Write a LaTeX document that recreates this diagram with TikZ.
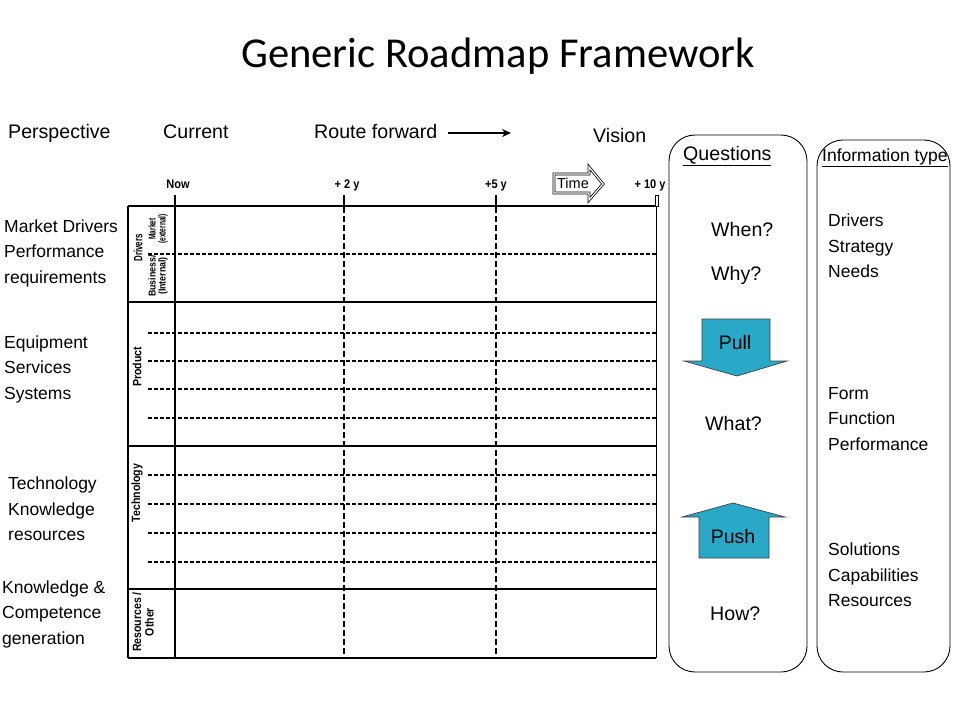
\documentclass[tikz,border=0pt]{standalone}
\usepackage{fontspec}
\setmainfont{Liberation Sans}
\newfontfamily\titlefont{Carlito}
\newfontfamily\narrowfont{Liberation Sans}[FakeStretch=0.88]
\newfontfamily\condfont{Liberation Sans}[FakeStretch=0.66]
\usetikzlibrary{arrows.meta}
\definecolor{arrowblue}{RGB}{41,168,199}

\begin{document}
\begin{tikzpicture}[x=1pt, y=-1pt,
    txt/.style={font=\fontsize{17.5}{25.5}\selectfont, align=left, anchor=west, inner sep=0pt},
    head/.style={font=\fontsize{19.6}{24}\selectfont, anchor=base west, inner sep=0pt},
    yearlbl/.style={font=\narrowfont\bfseries\fontsize{12.5}{12}\selectfont, anchor=base, inner sep=0pt},
    sect/.style={font=\narrowfont\bfseries\fontsize{12}{12.5}\selectfont, rotate=90, align=center, inner sep=0pt},
    grid/.style={line width=2pt},
    subline/.style={line width=1.2pt, dash pattern=on 4pt off 2pt},
    yearline/.style={line width=1.2pt, dash pattern=on 6pt off 3pt},
    panel/.style={draw, rounded corners=26pt, line width=0.9pt},
    flow/.style={draw=black!75, fill=arrowblue, line width=0.7pt}]

    \useasboundingbox[fill=white] (0,0) rectangle (960,720);

    % Titel
    \node[font=\titlefont\fontsize{42.6}{48}\selectfont, anchor=base, inner sep=0pt] (title) at (498,67) {Generic Roadmap Framework};

    % Kopfzeile
    \node[head] (persp) at (8,138) {Perspective};
    \node[head] (current) at (163,138) {Current};
    \node[head] (route) at (314,138) {Route forward};
    \node[head] (vision) at (593,142) {Vision};
    \coordinate (routeend) at (511,133);
    \draw[-{Stealth[length=9pt,width=8pt]}, line width=2.2pt] (448,133) -- (routeend);

    % Zeitachse
    \node[yearlbl] (now) at (178,188) {Now};
    \node[yearlbl] (y2) at (347,188) {+ 2 y};
    \node[yearlbl] (y5) at (496,188) {+5 y};
    \node[yearlbl] (y10) at (650,188) {+ 10 y};
    \draw[double, double distance=1.2pt, line width=0.8pt, line join=miter]
        (554,174) -- (589,174) -- (589,167) -- (603,184) -- (589,200) -- (589,193) -- (554,193) -- cycle;
    \node[font=\fontsize{14.5}{15}\selectfont, inner sep=0pt] (time) at (573,183.5) {Time};

    % Raster
    \foreach \y in {206,302,446,589,658}
        \draw[grid] (128,\y) -- (656,\y);
    \draw[line width=1.4pt] (128,206) -- (128,658);
    \draw[line width=0.8pt] (656,206) -- (656,658);
    \draw[line width=0.8pt] (655,195) rectangle (658,206);
    \draw[line width=2.6pt] (175,195) -- (175,658);
    \foreach \x in {344,496}{
        \draw[line width=2.4pt] (\x,195) -- (\x,207);
        \draw[yearline] (\x,207) -- (\x,658);
    }
    \foreach \y in {254,333,361,389,418,475,504,533,562}
        \draw[subline] (148,\y) -- (656,\y);

    % Ebenen
    \node[sect, font=\condfont\bfseries\fontsize{12}{12}\selectfont] (drivers) at (138,248) {Drivers};
    \node[sect, font=\condfont\bfseries\fontsize{10}{10}\selectfont] (market) at (158,229) {Market\\(external)};
    \node[sect, font=\narrowfont\bfseries\fontsize{10}{10}\selectfont] (business) at (158,276) {Business/\\(Internal)};
    \node[sect] (product) at (137,367) {Product};
    \node[sect] (techno) at (137,493) {Technology};
    \node[sect] (resources) at (143,622) {Resources /\\Other};

    % Perspektiven links
    \node[txt] (pers1) at (4,253) {Market Drivers\\Performance\\requirements};
    \node[txt] (pers2) at (4,369) {Equipment\\Services\\Systems};
    \node[txt] (pers3) at (8,509) {Technology\\Knowledge\\resources};
    \node[txt] (pers4) at (2,614) {Knowledge \&\\Competence\\generation};

    % Fragen
    \draw[panel] (669,135) rectangle (807,672);
    \node[head] (questions) at (683,160) {\underline{Questions}};
    \node[head] (when) at (711,236) {When?};
    \node[head] (why) at (711,280) {Why?};
    \node[head] (what) at (705,430) {What?};
    \node[head] (how) at (710,620) {How?};
    \draw[flow] (702,319) -- (770,319) -- (770,361) -- (787,361) -- (737,376) -- (684,361) -- (702,361) -- cycle;
    \node[font=\fontsize{19.5}{20}\selectfont, inner sep=0pt] (pull) at (735,343) {Pull};
    \draw[flow] (699,558) -- (769,558) -- (769,517) -- (785,517) -- (733,503) -- (682,517) -- (699,517) -- cycle;
    \node[font=\fontsize{19.5}{20}\selectfont, inner sep=0pt] (push) at (733,537) {Push};

    % Informationsart
    \draw[panel] (817,140) rectangle (950,672);
    \node[txt, anchor=base west] (infotype) at (822,161) {\underline{Information type}};
    \node[txt] (info1) at (828,246) {Drivers\\Strategy\\Needs};
    \node[txt] (info2) at (828,419) {Form\\Function\\Performance};
    \node[txt] (info3) at (828,575) {Solutions\\Capabilities\\Resources};
\end{tikzpicture}
\end{document}
